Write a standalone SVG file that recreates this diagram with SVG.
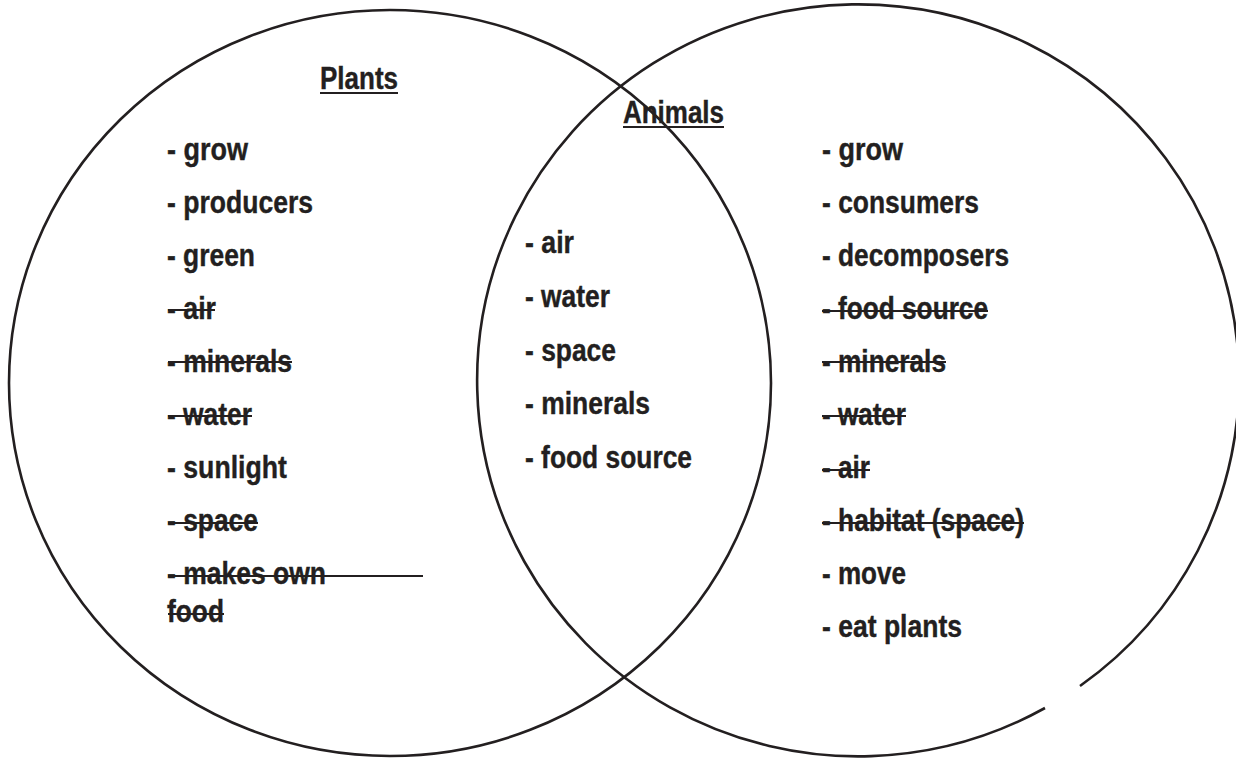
<svg xmlns="http://www.w3.org/2000/svg" width="1236" height="760" viewBox="0 0 1236 760">
<style>
.c{fill:none;stroke:#231f20;stroke-width:2.6}
.t{font-family:"Liberation Sans",Arial,sans-serif;font-weight:bold;font-size:31px;fill:#231f20;stroke:#231f20;stroke-width:0.4}
.s{stroke:#231f20;stroke-width:2}
</style>
<rect width="1236" height="760" fill="#fff"/>
<g id="plants-circle"><ellipse class="c" cx="390" cy="383" rx="381" ry="373"/></g>
<g id="animals-circle"><path class="c" d="M 1080 686 A 381 376 0 1 0 1045 708"/></g>
<g id="plants">
<text class="t" x="320" y="89" textLength="78" lengthAdjust="spacingAndGlyphs">Plants</text>
<line class="s" x1="320" y1="93" x2="398" y2="93"/>
<text class="t" x="167" y="160" textLength="81" lengthAdjust="spacingAndGlyphs">- grow</text>
<text class="t" x="167" y="213" textLength="146" lengthAdjust="spacingAndGlyphs">- producers</text>
<text class="t" x="167" y="266" textLength="88" lengthAdjust="spacingAndGlyphs">- green</text>
<text class="t" x="167" y="319" textLength="49" lengthAdjust="spacingAndGlyphs">- air</text>
<line class="s" x1="168" y1="310" x2="215" y2="310"/>
<text class="t" x="167" y="372" textLength="125" lengthAdjust="spacingAndGlyphs">- minerals</text>
<line class="s" x1="168" y1="362" x2="292" y2="362"/>
<text class="t" x="167" y="425" textLength="85" lengthAdjust="spacingAndGlyphs">- water</text>
<line class="s" x1="168" y1="416" x2="252" y2="416"/>
<text class="t" x="167" y="478" textLength="120" lengthAdjust="spacingAndGlyphs">- sunlight</text>
<text class="t" x="167" y="531" textLength="91" lengthAdjust="spacingAndGlyphs">- space</text>
<line class="s" x1="168" y1="523" x2="258" y2="523"/>
<text class="t" x="167" y="584" textLength="159" lengthAdjust="spacingAndGlyphs">- makes own</text>
<line class="s" x1="168" y1="576" x2="423" y2="576"/>
<text class="t" x="167" y="622" textLength="57" lengthAdjust="spacingAndGlyphs">food</text>
<line class="s" x1="168" y1="614" x2="224" y2="614"/>
</g>
<g id="shared">
<text class="t" x="525" y="253" textLength="49" lengthAdjust="spacingAndGlyphs">- air</text>
<text class="t" x="525" y="307" textLength="85" lengthAdjust="spacingAndGlyphs">- water</text>
<text class="t" x="525" y="361" textLength="91" lengthAdjust="spacingAndGlyphs">- space</text>
<text class="t" x="525" y="414" textLength="125" lengthAdjust="spacingAndGlyphs">- minerals</text>
<text class="t" x="525" y="468" textLength="167" lengthAdjust="spacingAndGlyphs">- food source</text>
</g>
<g id="animals">
<text class="t" x="623" y="123" textLength="101" lengthAdjust="spacingAndGlyphs">Animals</text>
<line class="s" x1="623" y1="127" x2="724" y2="127"/>
<text class="t" x="822" y="160" textLength="81" lengthAdjust="spacingAndGlyphs">- grow</text>
<text class="t" x="822" y="213" textLength="157" lengthAdjust="spacingAndGlyphs">- consumers</text>
<text class="t" x="822" y="266" textLength="187" lengthAdjust="spacingAndGlyphs">- decomposers</text>
<text class="t" x="822" y="319" textLength="166" lengthAdjust="spacingAndGlyphs">- food source</text>
<line class="s" x1="822" y1="311" x2="988" y2="311"/>
<text class="t" x="822" y="372" textLength="124" lengthAdjust="spacingAndGlyphs">- minerals</text>
<line class="s" x1="822" y1="362" x2="946" y2="362"/>
<text class="t" x="822" y="425" textLength="84" lengthAdjust="spacingAndGlyphs">- water</text>
<line class="s" x1="822" y1="416" x2="906" y2="416"/>
<text class="t" x="822" y="478" textLength="48" lengthAdjust="spacingAndGlyphs">- air</text>
<line class="s" x1="822" y1="470" x2="870" y2="470"/>
<text class="t" x="822" y="531" textLength="202" lengthAdjust="spacingAndGlyphs">- habitat (space)</text>
<line class="s" x1="822" y1="523" x2="1024" y2="523"/>
<text class="t" x="822" y="584" textLength="84" lengthAdjust="spacingAndGlyphs">- move</text>
<text class="t" x="822" y="637" textLength="140" lengthAdjust="spacingAndGlyphs">- eat plants</text>
</g>
</svg>
